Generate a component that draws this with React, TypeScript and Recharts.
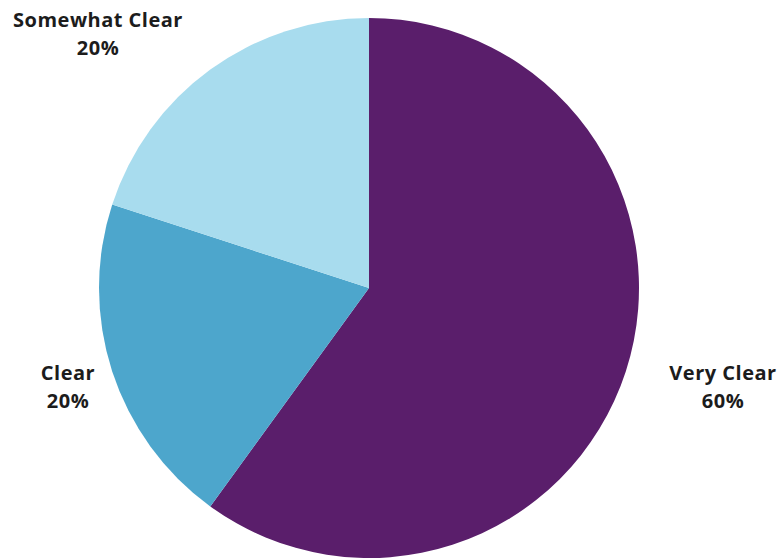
import { PieChart, Pie, Cell } from "recharts";

const categories = ["Very Clear", "Clear", "Somewhat Clear"];
const shares = [60, 20, 20];
const colors = ["#5a1e6b", "#4da6cc", "#a8dcee"];

// label anchor (centre x, first baseline y) for each slice
const labelAnchors = [
  { x: 723, y: 380 },
  { x: 68, y: 380 },
  { x: 98, y: 27 },
];

const data = categories.map((name, i) => ({ name, value: shares[i] }));

function renderLabel(props: any) {
  const { index } = props;
  const a = labelAnchors[index];
  const d = data[index];
  return (
    <text
      x={a.x}
      y={a.y}
      textAnchor="middle"
      fill="#1c1c1c"
      fontSize={20}
      fontWeight={700}
      letterSpacing={0.5}
      fontFamily="'Open Sans', sans-serif"
    >
      <tspan x={a.x} y={a.y}>
        {d.name}
      </tspan>
      <tspan x={a.x} y={a.y + 28}>
        {d.value}%
      </tspan>
    </text>
  );
}

export default function App() {
  return (
    <div style={{ position: "absolute", left: 0, top: 0, background: "#fff" }}>
      <PieChart
        width={781}
        height={560}
        margin={{ top: 0, right: 0, bottom: 0, left: 0 }}
      >
        <Pie
          data={data}
          dataKey="value"
          nameKey="name"
          cx={369}
          cy={288}
          outerRadius={270}
          startAngle={90}
          endAngle={-270}
          stroke="none"
          label={renderLabel}
          labelLine={false}
          isAnimationActive={false}
        >
          {data.map((d, i) => (
            <Cell key={d.name} fill={colors[i]} />
          ))}
        </Pie>
      </PieChart>
    </div>
  );
}
